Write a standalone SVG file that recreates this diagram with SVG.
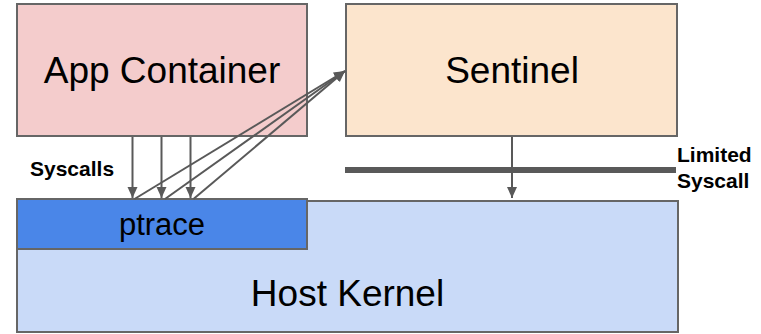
<svg xmlns="http://www.w3.org/2000/svg" width="761" height="334" viewBox="0 0 761 334">
<defs>
<marker id="ah" markerUnits="userSpaceOnUse" markerWidth="12" markerHeight="12" viewBox="0 0 12 12" refX="11" refY="6" orient="auto">
<path d="M0,1 L11,6 L0,11 Z" fill="#595959"/>
</marker>
<style>
.box{stroke:#666666;stroke-width:2}
.big{font-family:"Liberation Sans",Arial,sans-serif;font-size:37px;fill:#000;text-anchor:middle}
.lbl{font-family:"Liberation Sans",Arial,sans-serif;font-size:21px;font-weight:bold;fill:#000}
.arr{stroke:#595959;stroke-width:2;fill:none;marker-end:url(#ah)}
</style>
</defs>
<rect width="761" height="334" fill="#ffffff"/>
<g id="host-kernel">
<rect class="box" x="17" y="201" width="661" height="131" fill="#c9daf8"/>
<text class="big" x="347.5" y="306">Host Kernel</text>
</g>
<g id="ptrace">
<rect class="box" x="17" y="199" width="290" height="50" fill="#4a86e8"/>
<text class="big" x="162" y="235" style="font-size:31px">ptrace</text>
</g>
<g id="app-container">
<rect class="box" x="17" y="4" width="290" height="132" fill="#f4cccc"/>
<text class="big" x="162" y="83">App Container</text>
</g>
<g id="sentinel">
<rect class="box" x="346" y="4" width="331" height="132" fill="#fce5cd"/>
<text class="big" x="512" y="83">Sentinel</text>
</g>
<g id="limited-syscall-barrier">
<rect x="345" y="167" width="331" height="6" fill="#595959"/>
</g>
<g id="labels">
<text class="lbl" x="30" y="176">Syscalls</text>
<text class="lbl" x="677" y="162">Limited</text>
<text class="lbl" x="677" y="188">Syscall</text>
</g>
<g id="connectors">
<line class="arr" x1="132.5" y1="137" x2="132.5" y2="198"/>
<line class="arr" x1="161.5" y1="137" x2="161.5" y2="198"/>
<line class="arr" x1="190.5" y1="137" x2="190.5" y2="198"/>
<line class="arr" x1="134.5" y1="199" x2="345" y2="71"/>
<line class="arr" x1="165" y1="199" x2="345" y2="71"/>
<line class="arr" x1="193.5" y1="199" x2="345" y2="71"/>
<line class="arr" x1="512" y1="137" x2="512" y2="198"/>
</g>
</svg>
